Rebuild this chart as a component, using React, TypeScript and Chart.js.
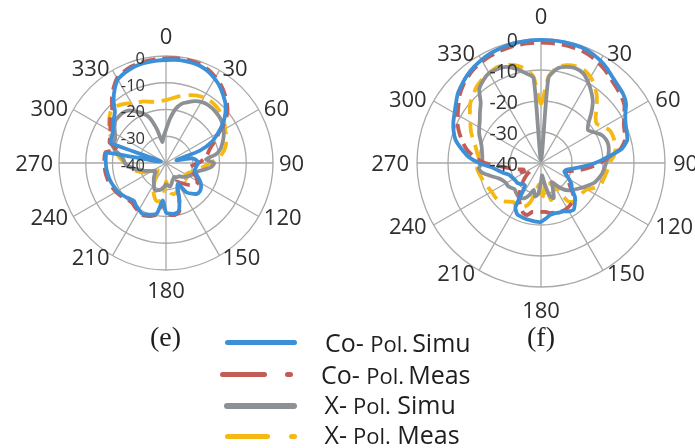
import React, { useEffect, useRef } from 'react';
import { Chart, registerables } from 'chart.js';

Chart.register(...registerables);

// ---------- categories (angle in degrees, 5° steps) ----------
const ANGLES = [
  0, 5, 10, 15, 20, 25, 30, 35, 40, 45, 50, 55,
  60, 65, 70, 75, 80, 85, 90, 95, 100, 105, 110, 115,
  120, 125, 130, 135, 140, 145, 150, 155, 160, 165, 170, 175,
  180, 185, 190, 195, 200, 205, 210, 215, 220, 225, 230, 235,
  240, 245, 250, 255, 260, 265, 270, 275, 280, 285, 290, 295,
  300, 305, 310, 315, 320, 325, 330, 335, 340, 345, 350, 355,
];
const ANGLE_LABELS = ['0', '30', '60', '90', '120', '150', '180', '210', '240', '270', '300', '330'];
const RADIAL_TICKS = [-40, -30, -20, -10, 0];
const SERIES_NAMES = ['Co- Pol.Simu', 'Co- Pol.Meas', 'X- Pol. Simu', 'X- Pol. Meas'];

// ---------- (e) ----------
const E_CO_SIMU = [
  -1.5, -1.3, -1.2, -1.3, -1.6, -2.4, -3.6, -5, -6.8, -8.6, -11, -14,
  -17.5, -21, -26.5, -36, -30, -28.6, -28, -28.5, -28.8, -29, -28, -26.5,
  -25, -24, -23.5, -23.7, -25, -26.5, -31, -30, -25.5, -21.5, -20.8, -21,
  -21.5, -26, -21, -20, -19.5, -19, -19.8, -20.5, -21.4, -21, -20.3, -19.6,
  -19, -18.7, -18.3, -18, -17.8, -17.6, -17.5, -17.4, -17.5, -38, -18, -17.6,
  -17, -16, -14.5, -13, -9.5, -6.5, -4, -3, -2.3, -1.9, -1.7, -1.6,
];
const E_CO_MEAS = [
  -0.9, -0.7, -0.6, -0.7, -1, -1.8, -3, -4.3, -6, -7.8, -10, -13,
  -17, -19.5, -22, -23.5, -24.5, -26, -28, -30, -31, -30.5, -29, -27.5,
  -26.5, -26, -27, -28.5, -30, -31, -32, -30, -25.5, -21, -20.3, -20.5,
  -21, -25, -20.5, -19.5, -19, -18.5, -19.2, -19.8, -20.5, -20.3, -19.6, -19,
  -18.4, -18, -17.6, -17.3, -17.1, -17, -16.9, -16.9, -17, -21, -17.5, -17,
  -16, -14.5, -12.8, -11.5, -8.5, -5.8, -3.4, -2.4, -1.7, -1.3, -1.1, -1,
];
const E_X_SIMU = [
  -27.5, -23.5, -19.5, -17, -15.8, -14.5, -13.6, -13.2, -13.2, -13.4, -13.7, -14.3,
  -15.2, -16.2, -17.5, -18.8, -21, -25, -22, -23, -25.5, -27.7, -28.5, -29.5,
  -30.3, -31, -32, -33, -33.2, -33.5, -34, -33.5, -33, -32, -31, -31.5,
  -32, -31, -30, -29.5, -29, -29.5, -31, -32, -33, -34, -35, -35,
  -34, -33, -31.5, -30, -28, -26, -24.6, -24, -22.5, -20, -19, -19,
  -18, -16.5, -15.3, -15.2, -15.3, -16, -17.8, -19.5, -22, -27, -32, -30,
];
const E_X_MEAS = [
  -16.5, -15.8, -14.8, -14, -13, -12.2, -11.7, -11.5, -11.6, -12, -12.6, -13.4,
  -14.5, -15.2, -16, -17, -18.5, -20.5, -23.5, -25.5, -27.5, -29, -30, -31,
  -31.5, -31, -30.5, -30.5, -31, -31, -30, -29, -28.5, -28, -28.5, -31,
  -33, -27, -25.4, -25.5, -27, -28.8, -31, -33, -34.5, -35.5, -36, -35.5,
  -34, -32, -30, -28.5, -27, -25.5, -24.7, -23, -21.5, -19.8, -18.5, -17.3,
  -15.5, -14, -12.5, -11.4, -12, -13, -14.2, -15, -15.5, -16.3, -16.8, -16.8,
];

// ---------- (f) ----------
const F_CO_SIMU = [
  -0.3, -0.3, -0.3, -0.4, -0.5, -1, -1.8, -2.8, -4, -4.8, -5.4, -6.5,
  -8.6, -9.9, -10.6, -11.2, -13.5, -18.5, -22.5, -26.5, -29.5, -31.5, -32, -31,
  -29.5, -28, -27, -24.5, -23, -21.6, -22, -22.8, -23, -23.2, -23, -22,
  -21, -21, -21.2, -21.3, -21.5, -21.8, -23.5, -31, -31, -30.5, -30, -30,
  -29.8, -29.5, -29, -27.5, -26, -24, -20, -16.5, -14, -11.5, -10, -8.8,
  -7.8, -6.5, -5, -4, -3, -2.2, -1.6, -1.1, -0.8, -0.5, -0.4, -0.3,
];
const F_CO_MEAS = [
  -1.2, -1.2, -1.2, -1.3, -1.5, -2, -2.8, -3.7, -4.8, -5.6, -6.3, -7.2,
  -9, -10.5, -11.3, -12, -14, -18, -21, -24, -27, -30, -31.8, -31,
  -30, -29, -27.5, -25.2, -24, -23.5, -23.2, -23, -23.2, -23.4, -23.6, -24.2,
  -24.2, -24.1, -24, -22.6, -23, -24.5, -26, -28, -30, -32, -34, -36,
  -35, -33, -34, -32, -30, -27, -22, -18.5, -15.8, -13.8, -12, -10.3,
  -9, -7.5, -5.8, -4.5, -3.5, -2.7, -2.2, -1.8, -1.5, -1.3, -1.2, -1.2,
];
const F_X_SIMU = [
  -39, -12.5, -9, -7.9, -7.5, -8, -9.7, -11.8, -14, -17, -20, -21.5,
  -20.2, -18.5, -17.7, -17.5, -17.8, -18.3, -19, -19.5, -20, -20.8, -21.6, -23,
  -24.3, -25.5, -26.5, -27.5, -29, -31, -33, -31, -28, -29, -33, -36,
  -34, -30, -29, -31, -29, -27.5, -27, -27, -27.5, -28, -27.5, -27,
  -27, -26.5, -25.5, -23.5, -21, -19.8, -21, -21, -20.7, -20.2, -19.3, -18,
  -17, -15.9, -14.3, -12.5, -9, -7.5, -6.5, -6.6, -7, -8.5, -10.5, -12.5,
];
const F_X_MEAS = [
  -21, -12, -8.5, -7.3, -6.8, -7, -8, -9.7, -12, -14.6, -17, -18,
  -16.5, -15.4, -15.2, -15.3, -15.6, -16.5, -18, -18.3, -18.8, -19.2, -19.5, -21,
  -22.9, -23.5, -23.7, -23.7, -23.7, -25, -32, -33, -29, -27.6, -33, -30,
  -28, -33, -31, -27, -25, -24, -24, -24.6, -23.7, -22.5, -21.6, -21.6,
  -21.6, -21.2, -20.8, -20.3, -19.8, -19.3, -20, -19.8, -19, -18, -16.5, -15,
  -13.7, -12, -10.2, -9, -7.8, -7, -6.5, -6, -6.3, -7.3, -9, -12,
];

const BLUE = '#3d8fd7';
const RED = '#c45c56';
const GRAY = '#8d9095';
const YELLOW = '#f5b912';
const GRID = '#a9a9a9';
const FONT = '"Open Sans", "Noto Sans", sans-serif';

type Cfg = {
  padding: { left: number; right: number; top: number; bottom: number };
  lw: number;
  plFont: number;
  plDx: number;
  plDy: number;
  plTop: number;
  plBottom: number;
  tickFont: number;
  tickDx: number;
  tickDy: number;
};

const E_CFG: Cfg = {
  padding: { left: 59, right: 67, top: 56, bottom: 60 },
  lw: 3.8, plFont: 22, plDx: 6, plDy: 2, plTop: 20, plBottom: 20,
  tickFont: 16.5, tickDx: 21, tickDy: 2,
};
const F_CFG: Cfg = {
  padding: { left: 57, right: 30, top: 39, bottom: 43 },
  lw: 3.8, plFont: 22, plDx: 8, plDy: 3, plTop: 23, plBottom: 23,
  tickFont: 19.5, tickDx: 23, tickDy: 1,
};

function labelPlugin(cfg: Cfg) {
  return {
    id: 'polarLabels',
    afterDatasetsDraw(chart: any) {
      const s = chart.scales.r;
      const ctx: CanvasRenderingContext2D = chart.ctx;
      const R = s.drawingArea;
      ctx.save();
      // angle labels
      ctx.font = `${cfg.plFont}px ${FONT}`;
      ctx.fillStyle = '#2e2e2e';
      ctx.textBaseline = 'alphabetic';
      const capHalf = cfg.plFont * 0.357;
      ANGLE_LABELS.forEach((txt) => {
        const a = Number(txt);
        const i = ANGLES.indexOf(a);
        if (a === 0 || a === 180) {
          const p = s.getPointPosition(i, R + (a === 0 ? cfg.plTop : cfg.plBottom));
          ctx.textAlign = 'center';
          ctx.fillText(txt, p.x, p.y + capHalf);
        } else {
          const px = s.getPointPosition(i, R + cfg.plDx).x;
          const py = s.getPointPosition(i, R + cfg.plDy).y;
          ctx.textAlign = a < 180 ? 'left' : 'right';
          ctx.fillText(txt, px, py + capHalf);
        }
      });
      // radial tick labels
      ctx.font = `${cfg.tickFont}px ${FONT}`;
      ctx.fillStyle = '#333333';
      ctx.textAlign = 'right';
      const tHalf = cfg.tickFont * 0.357;
      RADIAL_TICKS.forEach((v) => {
        const y = s.yCenter - s.getDistanceFromCenterForValue(v) + cfg.tickDy;
        ctx.fillText(String(v), s.xCenter - cfg.tickDx, y + tHalf);
      });
      ctx.restore();
    },
  };
}

function makeChart(canvas: HTMLCanvasElement, series: number[][], cfg: Cfg) {
  const styles = [
    { borderColor: BLUE, borderDash: [] as number[] },
    { borderColor: RED, borderDash: [14, 7] },
    { borderColor: GRAY, borderDash: [] as number[] },
    { borderColor: YELLOW, borderDash: [15, 8] },
  ];
  return new Chart(canvas, {
    type: 'radar',
    data: {
      labels: ANGLES,
      datasets: series.map((d, k) => ({
        label: SERIES_NAMES[k],
        data: d,
        borderColor: styles[k].borderColor,
        borderDash: styles[k].borderDash,
        borderWidth: cfg.lw,
        fill: false,
        pointRadius: 0,
        pointHoverRadius: 0,
        tension: 0.2,
      })),
    },
    options: {
      responsive: false,
      animation: false,
      devicePixelRatio: 1,
      layout: { padding: cfg.padding },
      plugins: { legend: { display: false }, tooltip: { enabled: false } },
      scales: {
        r: {
          min: -40,
          max: 0,
          startAngle: 0,
          ticks: { display: false, stepSize: 10 },
          pointLabels: { display: false },
          grid: { circular: true, color: GRID, lineWidth: 1.3 },
          angleLines: {
            color: (c: any) => (c.index % 6 === 0 ? GRID : 'rgba(0,0,0,0)'),
            lineWidth: 1.3,
          },
        },
      },
    } as any,
    plugins: [labelPlugin(cfg)],
  });
}

function Seg({ x, y, w, color }: { x: number; y: number; w: number; color: string }) {
  return (
    <div
      style={{
        position: 'absolute', left: x, top: y - 2.75, width: w, height: 5.5,
        background: color, borderRadius: 3,
      }}
    />
  );
}

const textStyle: React.CSSProperties = {
  position: 'absolute', fontFamily: FONT, fontSize: 25, lineHeight: '25px',
  color: '#1e1e1e', whiteSpace: 'nowrap',
};
const smallTight: React.CSSProperties = { fontSize: 22, marginRight: 4 };
const smallSpaced: React.CSSProperties = { fontSize: 22, marginLeft: 6 };

export default function App() {
  const eRef = useRef<HTMLCanvasElement>(null);
  const fRef = useRef<HTMLCanvasElement>(null);

  useEffect(() => {
    const c1 = makeChart(eRef.current!, [E_CO_SIMU, E_CO_MEAS, E_X_SIMU, E_X_MEAS], E_CFG);
    const c2 = makeChart(fRef.current!, [F_CO_SIMU, F_CO_MEAS, F_X_SIMU, F_X_MEAS], F_CFG);
    return () => {
      c1.destroy();
      c2.destroy();
    };
  }, []);

  return (
    <div style={{ position: 'absolute', left: 0, top: 0, width: 695, height: 448, background: '#fff', overflow: 'hidden' }}>
      <canvas ref={eRef} width={340} height={330} style={{ position: 'absolute', left: 0, top: 0, width: 340, height: 330 }} />
      <canvas ref={fRef} width={335} height={330} style={{ position: 'absolute', left: 360, top: 0, width: 335, height: 330 }} />

      <div style={{ position: 'absolute', left: 150, top: 323, fontFamily: '"Liberation Serif", serif', fontSize: 28, lineHeight: '28px', color: '#1e1e1e' }}>(e)</div>
      <div style={{ position: 'absolute', left: 527, top: 323, fontFamily: '"Liberation Serif", serif', fontSize: 28, lineHeight: '28px', color: '#1e1e1e' }}>(f)</div>

      <Seg x={225} y={342.7} w={72} color={BLUE} />
      <Seg x={220} y={374.5} w={47} color={RED} />
      <Seg x={285} y={374.5} w={8} color={RED} />
      <Seg x={224} y={406} w={73} color={GRAY} />
      <Seg x={225} y={436.7} w={45} color={YELLOW} />
      <Seg x={289} y={436.7} w={8} color={YELLOW} />

      <div style={{ ...textStyle, left: 325, top: 330 }}>Co- <span style={smallTight}>Pol.</span>Simu</div>
      <div style={{ ...textStyle, left: 321, top: 361.7 }}>Co- <span style={smallTight}>Pol.</span>Meas</div>
      <div style={{ ...textStyle, left: 324.5, top: 391.7 }}>X-<span style={smallSpaced}>Pol.</span> Simu</div>
      <div style={{ ...textStyle, left: 324.5, top: 421.7 }}>X-<span style={smallSpaced}>Pol.</span> Meas</div>
    </div>
  );
}
